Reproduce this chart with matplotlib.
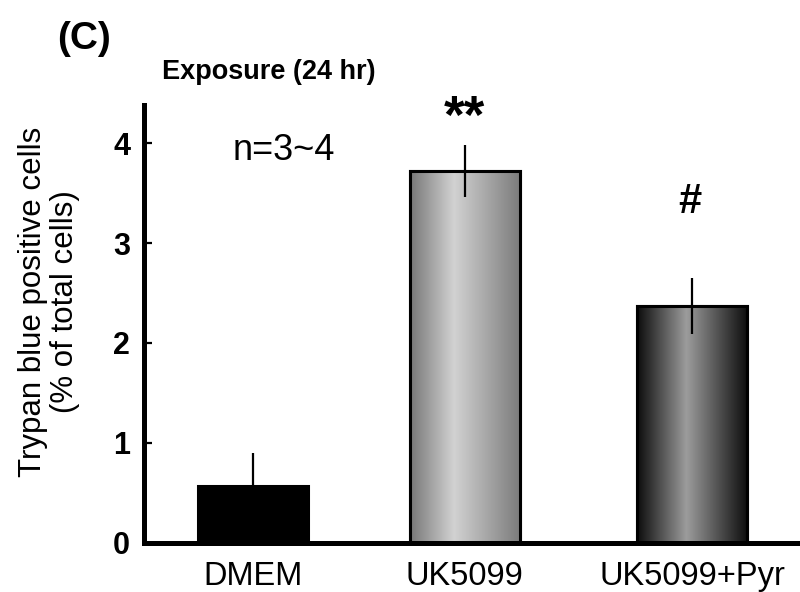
import numpy as np
import matplotlib
matplotlib.use("Agg")
import matplotlib.pyplot as plt
from matplotlib.colors import LinearSegmentedColormap

plt.rcParams.update({
    "font.family": ["Liberation Sans", "DejaVu Sans"],
    "axes.spines.top": False,
    "axes.spines.right": False,
})

groups = ["DMEM", "UK5099", "UK5099+Pyr"]
means = [0.57, 3.72, 2.37]
errors = [0.33, 0.26, 0.28]
marks = ["", "**", "#"]
yticks = [0, 1, 2, 3, 4]

# bar slots as laid out in the original figure (not quite evenly spaced)
slots = [0.0, 0.963, 2.0]

# horizontal shading profiles for each bar (None = flat black)
shades = [
    None,
    [(0.0, "#777777"), (0.4, "#d2d2d2"), (1.0, "#7c7c7c")],
    [(0.0, "#0c0c0c"), (0.45, "#9c9c9c"), (1.0, "#0f0f0f")],
]

fig = plt.figure(figsize=(8, 5.92), dpi=100)
ax = fig.add_axes([0.18, 0.0828, 0.82, 0.7398])

x = np.array(slots)
width = 0.5
bars = ax.bar(x, means, width=width, color="black", edgecolor="black",
              linewidth=2.2, zorder=2)

for bar, prof in zip(bars, shades):
    if prof is None:
        continue
    cmap = LinearSegmentedColormap.from_list("g", prof)
    x0 = bar.get_x()
    x1 = x0 + bar.get_width()
    h = bar.get_height()
    grad = np.linspace(0, 1, 256).reshape(1, -1)
    im = ax.imshow(grad, cmap=cmap, extent=(x0, x1, 0, h), aspect="auto",
                   origin="lower", zorder=2.5)
    im.set_clip_path(bar)
    ax.bar(bar.get_x() + bar.get_width() / 2, h, width=width, color="none",
           edgecolor="black", linewidth=2.2, zorder=3)

ax.errorbar(x, means, yerr=errors, fmt="none", ecolor="black",
            elinewidth=1.6, capsize=0, zorder=4)

# significance marks
ax.text(x[1], 4.10, marks[1], ha="center", va="baseline", fontsize=38,
        fontweight="bold")
ax.text(x[2] - 0.01, 3.41, marks[2], ha="center", va="center", fontsize=30,
        fontweight="bold")

ax.text(0.14, 3.93, "n=3~4", ha="center", va="center", fontsize=26)

ax.set_xlim(-0.497, 2.49)
ax.set_ylim(0, 4.38)
ax.set_xticks(x)
ax.set_xticklabels(groups, fontsize=23.5)
ax.set_yticks(yticks)
ax.set_yticklabels([str(t) for t in yticks], fontsize=22, fontweight="bold")
ax.tick_params(axis="y", direction="in", length=6, width=1.6, pad=10)
ax.tick_params(axis="x", length=0, pad=13)
for side in ["left", "bottom"]:
    ax.spines[side].set_linewidth(3.6)
    ax.spines[side].set_capstyle("projecting")

fig.text(0.061, 0.49, "Trypan blue positive cells\n(% of total cells)",
         rotation=90, ha="center", va="center", fontsize=22.5,
         linespacing=1.1, multialignment="center")

fig.text(0.2025, 0.878, "Exposure (24 hr)", ha="left", va="center",
         fontsize=19.5, fontweight="bold")
fig.text(0.071, 0.934, "(C)", ha="left", va="center",
         fontsize=28, fontweight="bold")

fig.savefig("out.png", dpi=100)
